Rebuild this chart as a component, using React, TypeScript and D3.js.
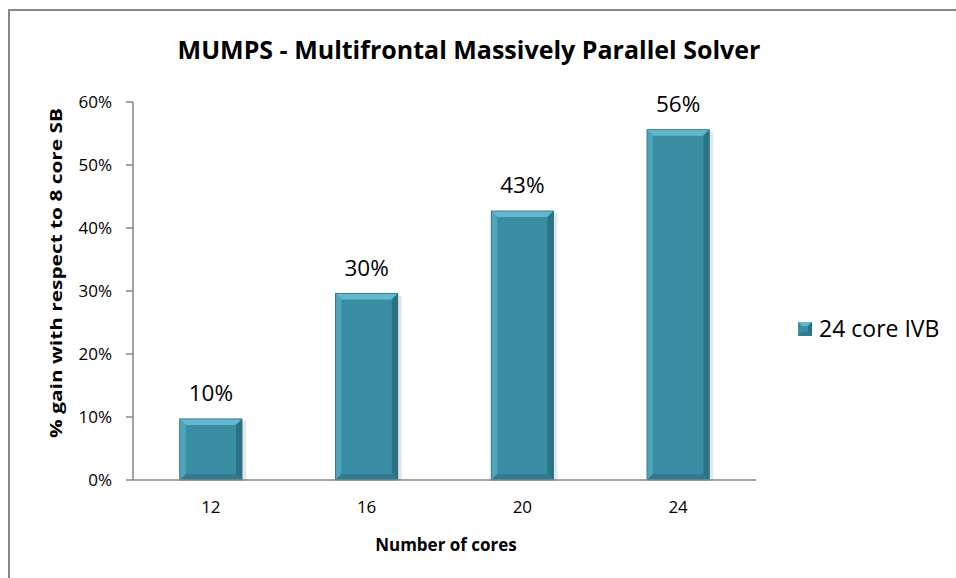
import React from "react";
import * as d3 from "d3";

const categories = ["12", "16", "20", "24"];
const values = [0.097, 0.296, 0.427, 0.556];
const valueLabels = ["10%", "30%", "43%", "56%"];
const yTicks = [0, 0.1, 0.2, 0.3, 0.4, 0.5, 0.6];
const seriesName = "24 core IVB";

const W = 956;
const H = 578;
const FONT = "'Open Sans', 'Liberation Sans', sans-serif";

export default function App() {
  const x = d3.scaleBand<string>().domain(categories).range([133, 756]).paddingInner(0.6).paddingOuter(0.3);
  const y = d3.scaleLinear().domain([0, 0.6]).range([480, 102]);
  const fmt = d3.format(".0%");
  const bw = x.bandwidth();
  const bev = 6;
  return (
    <svg width={W} height={H} style={{ position: "absolute", left: 0, top: 0 }}>
      <rect x={0} y={0} width={W} height={H} fill="#fff" />
      <rect x={9} y={10} width={W + 20} height={H + 20} fill="none" stroke="#868686" strokeWidth={2} />
      <text x={469} y={59} textAnchor="middle" fontFamily={FONT} fontWeight="bold" fontSize={25} fill="#000">
        MUMPS - Multifrontal Massively Parallel Solver
      </text>
      {/* y axis */}
      <line x1={133} x2={133} y1={y(0.6)} y2={y(0)} stroke="#868686" strokeWidth={1.5} />
      {yTicks.map((t) => (
        <g key={t}>
          <line x1={126} x2={133} y1={y(t)} y2={y(t)} stroke="#868686" strokeWidth={1.5} />
          <text x={112} y={y(t) + 6} textAnchor="end" fontFamily={FONT} fontSize={17} fill="#000">
            {fmt(t)}
          </text>
        </g>
      ))}
      <text transform={`translate(62,273) rotate(-90)`} textAnchor="middle" fontFamily={FONT} fontWeight="bold" fontSize={16} textLength={330} lengthAdjust="spacingAndGlyphs" fill="#000">
        % gain  with respect to  8 core  SB
      </text>
      {/* bars */}
      {categories.map((c, i) => {
        const x0 = x(c)!;
        const x1 = x0 + bw;
        const y0 = y(values[i]);
        const y1 = y(0);
        return (
          <g key={c}>
            <rect x={x0 + 2} y={y0 + 2} width={bw + 2} height={y1 - y0 - 2} fill="#000" opacity={0.1} />
            <rect x={x0} y={y0} width={bw} height={y1 - y0} fill="#3a8ea4" />
            <polygon points={`${x0},${y0} ${x1},${y0} ${x1 - bev},${y0 + bev} ${x0 + bev},${y0 + bev}`} fill="#63b8ce" />
            <polygon points={`${x0},${y0} ${x0 + bev},${y0 + bev} ${x0 + bev},${y1 - bev} ${x0},${y1}`} fill="#4ea4ba" />
            <polygon points={`${x1},${y0} ${x1 - bev},${y0 + bev} ${x1 - bev},${y1 - bev} ${x1},${y1}`} fill="#2a7387" />
            <polygon points={`${x0},${y1} ${x0 + bev},${y1 - bev} ${x1 - bev},${y1 - bev} ${x1},${y1}`} fill="#2e7b8f" />
            <rect x={x0} y={y0} width={bw} height={y1 - y0} fill="none" stroke="#2b6f80" strokeWidth={0.8} />
            <text x={x0 + bw / 2} y={y0 - 18} textAnchor="middle" fontFamily={FONT} fontSize={22.5} fill="#000">
              {valueLabels[i]}
            </text>
            <text x={x0 + bw / 2} y={513} textAnchor="middle" fontFamily={FONT} fontSize={17} fill="#000">
              {c}
            </text>
          </g>
        );
      })}
      {/* x axis */}
      <line x1={133} x2={756} y1={y(0)} y2={y(0)} stroke="#868686" strokeWidth={1.5} />
      <text x={446} y={551} textAnchor="middle" fontFamily={FONT} fontWeight="bold" fontSize={17} fill="#000">
        Number of cores
      </text>
      {/* legend */}
      <rect x={798} y={322} width={14} height={14} fill="#3a8ea4" />
      <polygon points="798,322 812,322 808,326 802,326" fill="#63b8ce" />
      <polygon points="812,322 808,326 808,332 812,336" fill="#2a7387" />
      <polygon points="798,336 802,332 808,332 812,336" fill="#2e7b8f" />
      <text x={819} y={337} fontFamily={FONT} fontSize={23} fill="#000">
        {seriesName}
      </text>
    </svg>
  );
}
